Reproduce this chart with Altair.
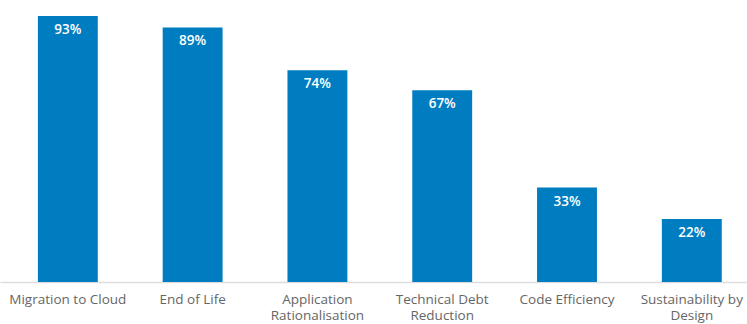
import altair as alt
import pandas as pd

categories = ["Migration to Cloud", "End of Life", "Application Rationalisation",
              "Technical Debt Reduction", "Code Efficiency", "Sustainability by Design"]
axis_labels = ["Migration to Cloud", "End of Life", "Application|Rationalisation",
               "Technical Debt|Reduction", "Code Efficiency", "Sustainability by|Design"]
values = [93, 89, 74, 67, 33, 22]

df = pd.DataFrame({
    "category": axis_labels,
    "value": values,
    "label": [f"{v}%" for v in values],
})

x = alt.X("category:N", sort=axis_labels,
          scale=alt.Scale(paddingInner=0.52, paddingOuter=0.253, align=0.6),
          axis=alt.Axis(title=None, labelAngle=0, ticks=False, domainColor="#dddddd",
                        domainWidth=1.5, labelColor="#666666", labelFontSize=13.5,
                        labelFont="Open Sans", labelPadding=10, labelLineHeight=16,
                        labelExpr="split(datum.label, '|')", labelBaseline="top"))
y = alt.Y("value:Q", scale=alt.Scale(domain=[0, 93], nice=False), axis=None)

bars = alt.Chart(df).mark_bar(color="#007DC0").encode(x=x, y=y)
text = alt.Chart(df).mark_text(color="white", fontSize=13.5, fontWeight=600,
                               font="Open Sans", baseline="top", dy=7).encode(
    x=alt.X("category:N", sort=axis_labels), y=y, text="label:N")

chart = (bars + text).properties(
    width=747, height=266,
    autosize=alt.AutoSizeParams(type="none"),
    padding={"left": 0, "top": 16, "right": 0, "bottom": 42},
).configure_view(stroke=None)

chart.save("out.html", embed_options={"renderer": "svg", "actions": False})
